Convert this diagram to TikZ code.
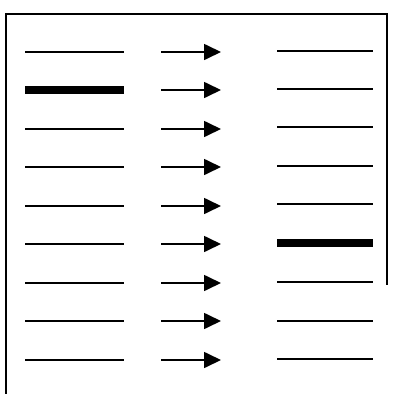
\documentclass[tikz,border=0pt]{standalone}
\usetikzlibrary{arrows.meta}
\begin{document}
\begin{tikzpicture}[x=1pt,y=-1pt,
  thinline/.style={line width=1.7pt},
  thickline/.style={line width=7.5pt},
  framel/.style={line width=1.3pt},
  arr/.style={line width=1.7pt,-{Triangle[length=17pt,width=16pt]}}]
\useasboundingbox (0,0) rectangle (392,394);
\coordinate (f1) at (6,394);
\coordinate (f2) at (6,14);
\coordinate (f3) at (387,14);
\coordinate (f4) at (387,285);
\draw[framel] (f1) -- (f2) -- (f3) -- (f4);
\foreach \i/\yl/\yr in {1/52/51,2/90/89,3/129/127,4/167/166,5/206/204,6/244/243,7/283/282,8/321/321,9/360/359}{
  \coordinate (la\i) at (25,\yl);
  \coordinate (lb\i) at (124,\yl);
  \coordinate (aa\i) at (161,\yl);
  \coordinate (ab\i) at (221,\yl);
  \coordinate (ra\i) at (277,\yr);
  \coordinate (rb\i) at (373,\yr);
  \ifnum\i=2
    \draw[thickline] (la\i) -- (lb\i);
  \else
    \draw[thinline] (la\i) -- (lb\i);
  \fi
  \ifnum\i=6
    \draw[thickline] (ra\i) -- (rb\i);
  \else
    \draw[thinline] (ra\i) -- (rb\i);
  \fi
  \draw[arr] (aa\i) -- (ab\i);
}
\end{tikzpicture}
\end{document}
